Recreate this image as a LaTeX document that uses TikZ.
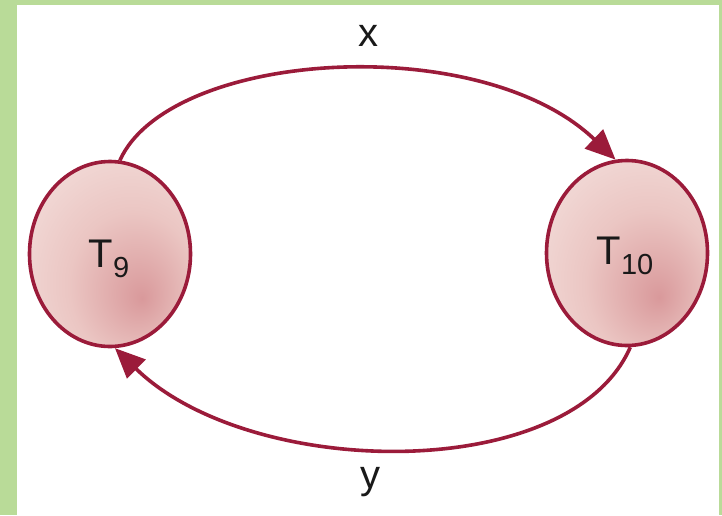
\documentclass[tikz,border=0pt]{standalone}
\usepackage{fontspec}
\setmainfont{Liberation Sans}
\usetikzlibrary{shapes.geometric,arrows.meta}
\definecolor{bordergreen}{HTML}{B9DB98}
\definecolor{crim}{HTML}{9B1B3A}
\definecolor{pkA}{HTML}{D9999B}
\definecolor{pkB}{HTML}{EBC6C3}
\definecolor{pkC}{HTML}{F5E4E1}
\pgfdeclareradialshading{blob}{\pgfpoint{10bp}{-12bp}}{color(0bp)=(pkA); color(20bp)=(pkB); color(44bp)=(pkC); color(70bp)=(pkC)}
\tikzset{
  cell/.style={ellipse, draw=crim, line width=3.6pt, shading=blob, minimum width=161pt, minimum height=185pt, inner sep=0pt},
  conn/.style={draw=crim, line width=3.6pt, -{Triangle[length=30pt,width=26pt]}},
  lbl/.style={font=\fontsize{40}{40}\selectfont, text=black!90, inner sep=0pt}
}
\newcommand{\Tlab}[1]{{\fontsize{40}{40}\selectfont T}\raisebox{-10pt}{\fontsize{29}{29}\selectfont #1}}
\begin{document}
\begin{tikzpicture}[x=1pt,y=-1pt]
\useasboundingbox (0,0) rectangle (722,515);
\fill[bordergreen] (0,0) rectangle (722,515);
\fill[white] (17,5) rectangle (719,515);
\node[cell] (T9) at (110,254) {};
\node[cell] (T10) at (627,253) {};
\node[inner sep=0pt, text=black!90] (t9) at (109,259) {\Tlab{9}};
\node[inner sep=0pt, text=black!90] (t10) at (625,256) {\Tlab{10}};
\draw[conn] (T9.84) .. controls (170,50) and (480,30) .. (T10.97);
\draw[conn] (T10.272) .. controls (570,485) and (250,480) .. (T9.273);
\node[lbl] (x) at (368,36) {x};
\node[lbl] (y) at (370,482) {y};
\end{tikzpicture}
\end{document}
